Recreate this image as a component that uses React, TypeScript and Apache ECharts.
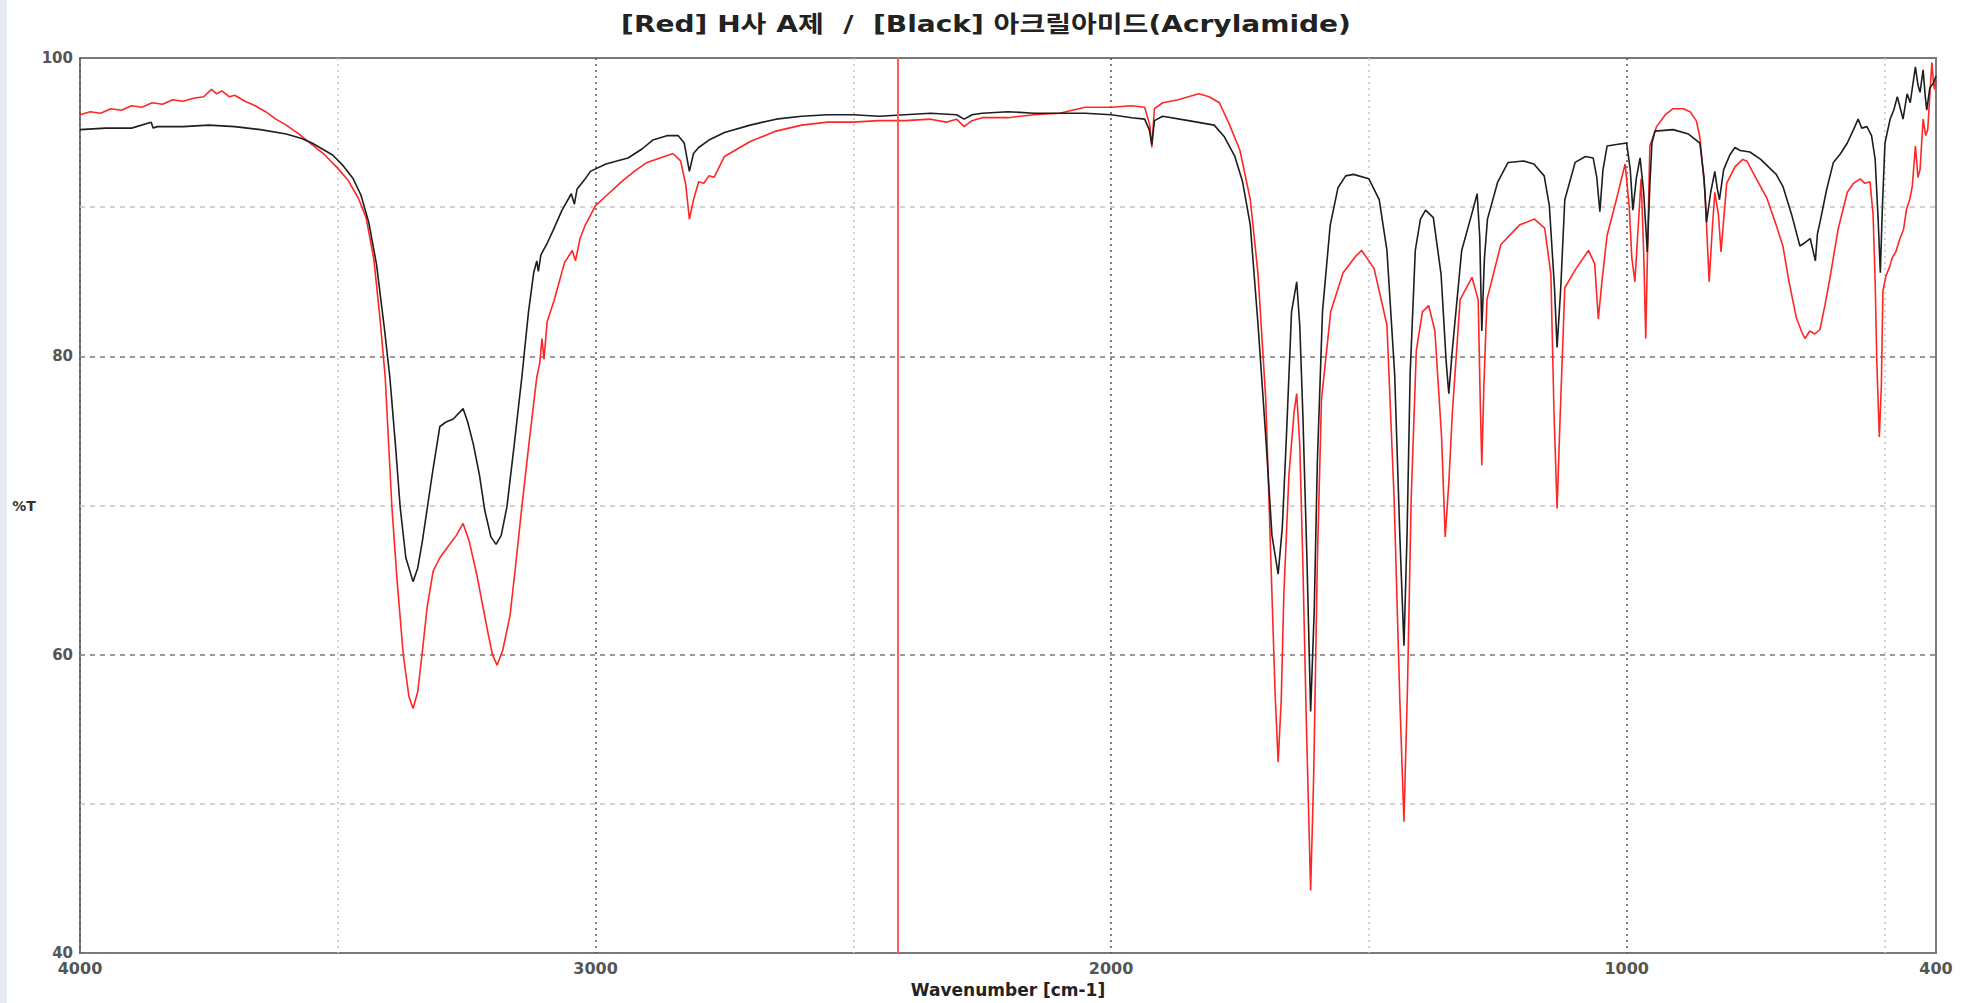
import React, { useEffect, useRef } from "react";
import * as echarts from "echarts";

const titleText = "[Red] H사 A제  /  [Black] 아크릴아미드(Acrylamide)";
const xAxisName = "Wavenumber [cm-1]";
const yAxisName = "%T";
const xLabelValues = [4000, 3000, 2000, 1000, 400];
const yLabelValues = [100, 80, 60, 40];
const markerWavenumbers = [2413];

// Red: H사 A제  [wavenumber cm-1, %T]
const redSpectrum: [number, number][] = [
  [4000, 96.2], [3980, 96.4], [3960, 96.3], [3940, 96.6], [3920, 96.5], [3900, 96.8],
  [3880, 96.7], [3860, 97.0], [3840, 96.9], [3820, 97.2], [3800, 97.1], [3780, 97.3],
  [3760, 97.4], [3745, 97.9], [3735, 97.6], [3725, 97.8], [3710, 97.4], [3700, 97.5],
  [3680, 97.1], [3660, 96.8], [3640, 96.4], [3620, 95.9], [3600, 95.5], [3575, 94.9],
  [3550, 94.2], [3525, 93.5], [3500, 92.6], [3480, 91.8], [3460, 90.6], [3445, 89.3],
  [3430, 86.5], [3418, 82.5], [3408, 78.6], [3395, 69.9], [3385, 65.0], [3373, 60.0],
  [3362, 57.2], [3354, 56.4], [3345, 57.5], [3335, 60.5], [3327, 63.1], [3315, 65.6],
  [3302, 66.5], [3285, 67.3], [3270, 68.0], [3257, 68.8], [3245, 67.6], [3230, 65.3],
  [3220, 63.5], [3210, 61.7], [3200, 60.0], [3191, 59.3], [3180, 60.3], [3166, 62.6],
  [3155, 66.0], [3143, 69.9], [3128, 74.5], [3114, 78.6], [3108, 79.6], [3104, 81.2],
  [3100, 79.8], [3094, 82.3], [3080, 83.8], [3060, 86.3], [3045, 87.1], [3039, 86.4],
  [3030, 87.9], [3020, 88.8], [3000, 90.1], [2975, 90.9], [2950, 91.7], [2925, 92.4],
  [2900, 93.0], [2875, 93.3], [2850, 93.6], [2835, 93.1], [2825, 91.5], [2818, 89.2],
  [2810, 90.5], [2800, 91.7], [2790, 91.6], [2780, 92.1], [2770, 92.0], [2750, 93.4],
  [2725, 93.9], [2700, 94.4], [2650, 95.1], [2600, 95.5], [2550, 95.7], [2500, 95.7],
  [2450, 95.8], [2400, 95.8], [2350, 95.9], [2320, 95.7], [2300, 95.9], [2285, 95.4],
  [2270, 95.8], [2250, 96.0], [2200, 96.0], [2150, 96.2], [2100, 96.3], [2050, 96.7],
  [2000, 96.7], [1960, 96.8], [1935, 96.7], [1925, 95.5], [1921, 94.0], [1916, 96.6],
  [1900, 97.0], [1870, 97.2], [1850, 97.4], [1830, 97.6], [1810, 97.4], [1790, 97.0],
  [1770, 95.5], [1750, 93.8], [1730, 90.5], [1715, 85.5], [1700, 77.1], [1690, 66.2],
  [1682, 57.5], [1676, 52.8], [1670, 57.0], [1665, 64.0], [1655, 72.1], [1645, 76.3],
  [1640, 77.5], [1634, 74.0], [1628, 66.0], [1621, 55.0], [1613, 44.2], [1607, 52.0],
  [1600, 66.2], [1592, 77.1], [1574, 83.0], [1550, 85.6], [1526, 86.7], [1514, 87.1],
  [1490, 85.9], [1465, 82.1], [1451, 70.4], [1440, 57.0], [1432, 48.8], [1425, 58.0],
  [1418, 70.4], [1408, 80.4], [1396, 83.0], [1384, 83.4], [1372, 81.7], [1359, 74.6],
  [1352, 67.9], [1345, 71.5], [1338, 76.3], [1323, 83.8], [1300, 85.3], [1288, 83.8],
  [1284, 77.0], [1281, 72.7], [1277, 78.0], [1271, 83.8], [1244, 87.5], [1208, 88.8],
  [1179, 89.2], [1159, 88.6], [1147, 85.5], [1141, 76.3], [1135, 69.8], [1129, 76.0],
  [1120, 84.6], [1098, 85.9], [1074, 87.1], [1062, 86.2], [1055, 82.5], [1048, 85.0],
  [1038, 88.1], [1020, 90.5], [1003, 92.9], [995, 90.0], [990, 86.6], [984, 85.0],
  [978, 88.5], [972, 91.9], [967, 87.0], [963, 81.2], [959, 88.0], [955, 94.1],
  [942, 95.4], [925, 96.2], [910, 96.6], [890, 96.6], [877, 96.4], [865, 95.8],
  [858, 94.7], [848, 91.0], [840, 85.0], [834, 88.5], [829, 91.0], [822, 89.5],
  [817, 87.0], [811, 89.5], [806, 91.6], [790, 92.7], [775, 93.2], [767, 93.1],
  [750, 92.0], [728, 90.6], [710, 88.8], [697, 87.4], [685, 85.0], [671, 82.6],
  [660, 81.6], [654, 81.2], [645, 81.7], [635, 81.5], [625, 81.8], [615, 83.5],
  [605, 85.4], [590, 88.5], [572, 91.0], [560, 91.6], [547, 91.9], [538, 91.6],
  [528, 91.7], [522, 89.5], [518, 85.0], [515, 79.9], [510, 74.6], [506, 78.0],
  [503, 84.4], [497, 85.4], [490, 86.0], [485, 86.6], [478, 87.0], [470, 87.9],
  [463, 88.5], [457, 89.9], [451, 90.5], [446, 91.4], [440, 94.1], [435, 92.0],
  [431, 92.5], [425, 95.9], [420, 94.8], [416, 95.2], [412, 97.5], [408, 99.7],
  [405, 98.4], [403, 97.9], [400, 98.5],
];

// Black: 아크릴아미드 (Acrylamide)  [wavenumber cm-1, %T]
const blackSpectrum: [number, number][] = [
  [4000, 95.2], [3950, 95.3], [3900, 95.3], [3862, 95.7], [3858, 95.3], [3850, 95.4],
  [3800, 95.4], [3750, 95.5], [3700, 95.4], [3650, 95.2], [3600, 94.9], [3570, 94.6],
  [3550, 94.3], [3530, 93.9], [3510, 93.5], [3490, 92.8], [3470, 91.9], [3455, 90.8],
  [3440, 89.0], [3425, 86.2], [3410, 82.0], [3399, 78.6], [3388, 74.0], [3379, 69.9],
  [3368, 66.5], [3354, 64.9], [3345, 65.8], [3336, 67.6], [3327, 69.7], [3315, 72.5],
  [3302, 75.3], [3290, 75.6], [3276, 75.8], [3257, 76.5], [3248, 75.6], [3237, 74.1],
  [3225, 72.0], [3215, 69.7], [3203, 67.9], [3193, 67.4], [3183, 68.0], [3172, 69.9],
  [3158, 74.0], [3143, 78.6], [3130, 83.0], [3120, 85.6], [3114, 86.4], [3111, 85.7],
  [3106, 86.8], [3095, 87.5], [3083, 88.4], [3065, 89.8], [3047, 90.9], [3041, 90.2],
  [3036, 91.2], [3020, 91.9], [3010, 92.4], [2980, 92.9], [2937, 93.3], [2910, 93.9],
  [2889, 94.5], [2860, 94.8], [2840, 94.8], [2828, 94.3], [2818, 92.4], [2810, 93.6],
  [2800, 94.0], [2780, 94.5], [2750, 95.0], [2700, 95.5], [2650, 95.9], [2600, 96.1],
  [2550, 96.2], [2500, 96.2], [2450, 96.1], [2400, 96.2], [2350, 96.3], [2300, 96.2],
  [2285, 95.9], [2270, 96.2], [2250, 96.3], [2200, 96.4], [2150, 96.3], [2100, 96.3],
  [2050, 96.3], [2000, 96.2], [1960, 96.0], [1935, 95.9], [1926, 95.2], [1921, 94.2],
  [1916, 95.8], [1900, 96.1], [1850, 95.8], [1800, 95.5], [1780, 94.7], [1760, 93.4],
  [1745, 91.7], [1730, 88.8], [1715, 82.1], [1700, 74.6], [1688, 68.0], [1676, 65.4],
  [1668, 68.5], [1660, 74.6], [1650, 83.0], [1640, 85.0], [1634, 82.0], [1628, 76.0],
  [1620, 66.2], [1613, 56.2], [1606, 63.0], [1600, 72.9], [1590, 83.0], [1575, 88.8],
  [1560, 91.3], [1545, 92.1], [1530, 92.2], [1500, 91.9], [1480, 90.5], [1465, 87.1],
  [1450, 78.8], [1440, 68.0], [1432, 60.6], [1426, 68.0], [1420, 78.8], [1410, 87.1],
  [1400, 89.2], [1390, 89.8], [1375, 89.3], [1360, 85.5], [1350, 79.6], [1345, 77.5],
  [1338, 80.5], [1320, 87.1], [1300, 89.6], [1290, 90.9], [1285, 88.0], [1281, 81.7],
  [1276, 86.5], [1270, 89.2], [1250, 91.7], [1230, 93.0], [1200, 93.1], [1180, 92.9],
  [1160, 92.1], [1150, 90.1], [1140, 84.6], [1135, 80.6], [1128, 84.5], [1120, 90.5],
  [1100, 93.0], [1080, 93.4], [1065, 93.3], [1058, 92.0], [1052, 89.7], [1046, 92.5],
  [1038, 94.1], [1020, 94.2], [1000, 94.3], [993, 92.5], [988, 89.8], [981, 92.0],
  [974, 93.3], [967, 91.0], [960, 87.0], [955, 91.5], [951, 94.3], [945, 95.1],
  [910, 95.2], [880, 94.9], [858, 94.3], [850, 92.0], [845, 89.0], [837, 91.0],
  [829, 92.4], [824, 91.2], [820, 90.5], [812, 92.5], [800, 93.5], [790, 94.0],
  [780, 93.8], [761, 93.7], [740, 93.2], [728, 92.8], [710, 92.2], [697, 91.4],
  [680, 89.5], [664, 87.4], [655, 87.6], [644, 87.9], [638, 87.0], [634, 86.4],
  [630, 88.2], [625, 89.0], [612, 91.2], [599, 93.0], [585, 93.6], [572, 94.3],
  [560, 95.2], [551, 95.9], [544, 95.3], [534, 95.4], [525, 94.8], [518, 93.2],
  [512, 89.0], [508, 85.6], [504, 90.0], [499, 94.3], [489, 95.9], [482, 96.5],
  [475, 97.4], [469, 96.6], [464, 95.9], [456, 97.6], [450, 97.0], [440, 99.4],
  [435, 98.2], [431, 97.7], [425, 99.2], [421, 97.5], [418, 96.5], [412, 98.0],
  [405, 98.3], [400, 98.8],
];

const FONT = "'DejaVu Sans', 'Noto Sans CJK KR', sans-serif";

export default function App() {
  const ref = useRef<HTMLDivElement>(null);

  useEffect(() => {
    if (!ref.current) return;
    const chart = echarts.init(ref.current, null, { renderer: "svg" });

    // vertical grid: ticks every 100 from 400; index i -> 400 + 100 i
    const xGridColors: string[] = [];
    for (let i = 0; i < 10; i++) {
      xGridColors.push(i === 1 ? "#c4c4c4" : i === 6 ? "#555555" : "rgba(0,0,0,0)");
    }

    chart.setOption({
      animation: false,
      backgroundColor: "#ffffff",
      graphic: [
        { type: "rect", left: 0, top: 0, shape: { width: 7, height: 1003 }, style: { fill: "#e8ecf1" }, silent: true },
        {
          type: "text",
          x: 986,
          y: 24,
          scaleX: 1.22,
          silent: true,
          style: {
            text: titleText,
            fontFamily: FONT,
            fontWeight: "bold",
            fontSize: 23,
            fill: "#222",
            align: "center",
            verticalAlign: "middle",
          },
        },
      ],
      grid: {
        left: 80,
        right: 33,
        top: 58,
        bottom: 43,
        show: true,
        borderColor: "#7a7a7a",
        borderWidth: 2,
        backgroundColor: "transparent",
      },
      xAxis: {
        type: "value",
        inverse: true,
        min: 400,
        max: 4000,
        interval: 100,
        name: xAxisName,
        nameLocation: "middle",
        nameGap: 26,
        nameTextStyle: { fontFamily: FONT, fontWeight: "bold", fontSize: 17, color: "#222" },
        axisLine: { show: false },
        axisTick: { show: false },
        axisLabel: {
          margin: 7,
          fontFamily: FONT,
          fontWeight: "bold",
          fontSize: 16,
          color: "#555",
          showMinLabel: true,
          showMaxLabel: true,
          formatter: (v: number) => (xLabelValues.includes(v) ? String(v) : ""),
        },
        splitLine: {
          show: true,
          lineStyle: { color: xGridColors, width: 1.5, type: [2, 4] },
        },
      },
      yAxis: {
        type: "value",
        min: 40,
        max: 100,
        interval: 10,
        name: yAxisName,
        nameLocation: "middle",
        nameRotate: 0,
        nameGap: 42,
        nameTextStyle: { fontFamily: FONT, fontWeight: "bold", fontSize: 14, color: "#333" },
        axisLine: { show: false },
        axisTick: { show: false },
        axisLabel: {
          margin: 7,
          fontFamily: FONT,
          fontWeight: "bold",
          fontSize: 15,
          color: "#555",
          formatter: (v: number) => (yLabelValues.includes(v) ? String(v) : ""),
        },
        splitLine: {
          show: true,
          lineStyle: { color: ["#7a7a7a", "#c4c4c4"], width: 1.5, type: [5, 5] },
        },
      },
      series: [
        {
          name: "Red",
          type: "line",
          data: redSpectrum,
          showSymbol: false,
          symbol: "none",
          silent: true,
          z: 2,
          lineStyle: { color: "#ff2626", width: 1.6 },
          markLine: {
            silent: true,
            symbol: "none",
            label: { show: false },
            lineStyle: { color: "#ff5c5c", width: 2, type: "solid" },
            data: markerWavenumbers.map((v) => ({ xAxis: v })),
          },
        },
        {
          name: "Black",
          type: "line",
          data: blackSpectrum,
          showSymbol: false,
          symbol: "none",
          silent: true,
          z: 3,
          lineStyle: { color: "#1e1e1e", width: 1.6 },
        },
      ],
    });

    return () => chart.dispose();
  }, []);

  return (
    <div
      ref={ref}
      style={{ position: "fixed", left: 0, top: 0, width: 1969, height: 1003, background: "#fff" }}
    />
  );
}
